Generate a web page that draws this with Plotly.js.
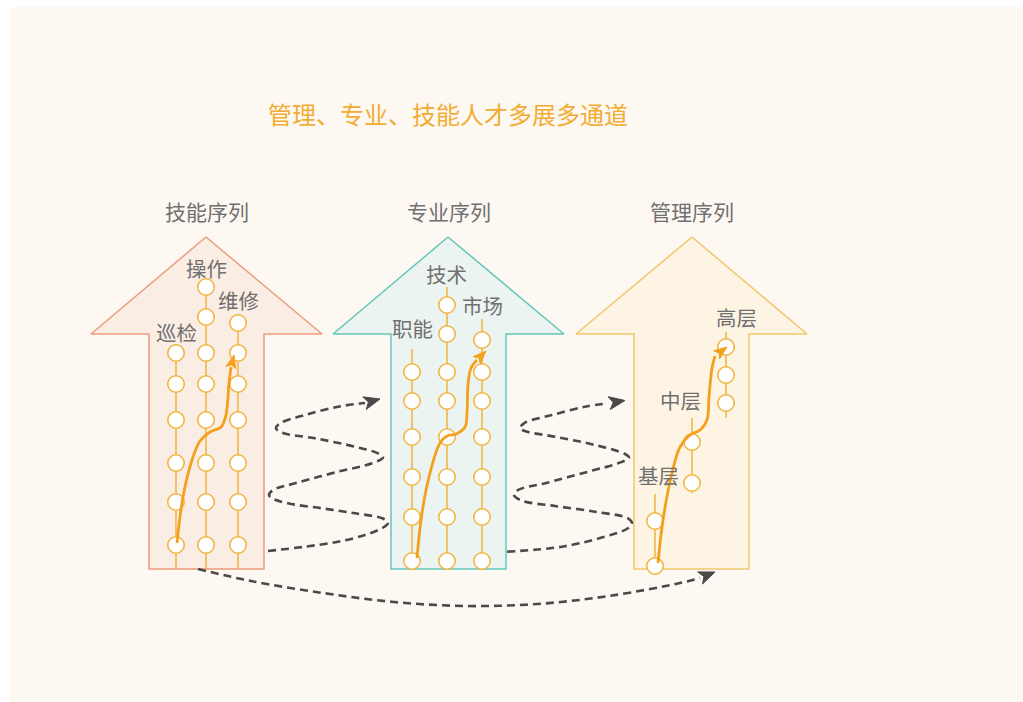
<!DOCTYPE html>
<html><head><meta charset="utf-8">
<script src="https://cdn.plot.ly/plotly-3.0.1.min.js"></script>
<style>html,body{margin:0;padding:0;background:#fff}</style>
</head><body><div id="chart" style="width:1023px;height:702px"></div>
<script>
// ---------- data ----------
const chartTitle = '管理、专业、技能人才多展多通道';
const seqTitles = ['技能序列', '专业序列', '管理序列'];
const seqTitleX = [207, 449, 692];
const seqTitleY = [211, 211, 211];

// arrow outlines (tip, right head, right shaft, bottom, left shaft, left head)
const arrowOutlineY = [237, 334, 334, 569, 569, 334, 334, 237];
const arrowOutlineX1 = [206, 322, 264, 264, 149, 149, 91, 206];
const arrowOutlineX2 = [448, 564, 506, 506, 391, 391, 333, 448];
const arrowOutlineX3 = [692, 807, 749, 749, 634, 634, 576, 692];

// tracks (levels) inside each arrow
const trackNames = ['巡检', '操作', '维修', '职能', '技术', '市场', '基层', '中层', '高层'];
const trackX = [176, 206, 238, 412, 447, 482, 655, 692, 726];
const trackTop = [353, 287, 323, 349, 287, 319, 494, 418, 332];
const trackBottom = [569, 569, 569, 569, 569, 569, 569, 493, 418];
const trackNodes = [
  [353, 384, 420, 463, 502, 545],
  [287, 317, 353, 384, 420, 463, 502, 545],
  [323, 353, 384, 420, 463, 502, 545],
  [372, 401, 437, 477, 517, 561],
  [305, 334, 372, 401, 437, 477, 517, 561],
  [340, 372, 401, 437, 477, 517, 561],
  [521, 566],
  [442, 483],
  [347, 375, 403]
];
const trackLabelX = [176, 206, 238, 412, 446, 482, 658, 680, 736];
const trackLabelY = [332, 268, 300, 328, 274, 305, 475, 400, 317];

// orange growth paths
const pathX1 = [177, 183, 192, 200, 210, 221, 226, 229, 231];
const pathY1 = [543, 497, 460, 441, 432, 427, 415, 383, 367];
const pathTip1 = [234, 355];
const pathX2 = [417, 422, 430, 440, 447, 456, 465, 467, 468, 471, 477];
const pathY2 = [558, 513, 473, 443, 436, 434, 427, 413, 385, 368, 360];
const pathTip2 = [486, 351];
const pathX3 = [658, 663, 672, 680, 690, 700, 707, 709, 712, 715];
const pathY3 = [563, 520, 473, 447, 435, 430, 420, 397, 368, 356];
const pathTip3 = [727, 347];

// dashed transfer paths
const dashX1 = [268, 305, 338, 365, 384, 388, 383, 355, 322, 288, 272, 269, 273, 295, 338, 372, 383, 378, 355, 315, 282, 276, 280, 305, 338, 365];
const dashY1 = [551, 546.7, 541.7, 535, 527, 523, 518.5, 513.3, 508.3, 503.3, 498.3, 495, 490, 483.3, 471.7, 463.3, 457.3, 453.3, 446.7, 438.3, 432.7, 428.3, 423.3, 415, 406.7, 403];
const dashTip1 = [380, 399];
const dashX2 = [507, 562, 605, 628, 632, 628, 595, 555, 522, 514, 518, 545, 588, 618, 629, 625, 595, 555, 527, 520, 525, 552, 585, 608];
const dashY2 = [551.7, 546.7, 536.7, 528.3, 523.3, 518.3, 511.7, 506, 500.7, 495, 490, 483.3, 471.7, 463.3, 457.7, 454, 445, 436.7, 431.7, 428.3, 422.7, 415, 406.7, 403.3];
const dashTip2 = [625, 400.5];
const dashX3 = [198, 251, 323, 394, 466, 537, 609, 680, 700];
const dashY3 = [569, 581, 593, 602, 606, 604, 596, 583, 578];
const dashTip3 = [715, 572];

// ---------- styles ----------
const FONT = 'Noto Sans CJK SC, Noto Sans, sans-serif';
const arrowFill = ['#faede4', '#ecf4f1', '#fdf4e4'];
const arrowLine = ['#eb9c7d', '#63c6ba', '#f1c66c'];
const nodeColor = '#f2b33d';
const pathColor = '#f5a01d';
const dashColor = '#4a4a4a';
const textColor = '#707070';

const traces = [];
const outlines = [arrowOutlineX1, arrowOutlineX2, arrowOutlineX3];
outlines.forEach((xs, i) => {
  traces.push({
    x: xs, y: arrowOutlineY, mode: 'lines', fill: 'toself',
    fillcolor: arrowFill[i], line: {color: arrowLine[i], width: 1.5},
    hoverinfo: 'skip', showlegend: false
  });
});

const dashes = [[dashX1, dashY1], [dashX2, dashY2], [dashX3, dashY3]];
dashes.forEach(d => {
  traces.push({
    x: d[0], y: d[1], mode: 'lines',
    line: {color: dashColor, width: 2.6, dash: '8px,5px', shape: 'spline', smoothing: 1},
    hoverinfo: 'skip', showlegend: false
  });
});

trackNames.forEach((n, i) => {
  traces.push({
    x: [trackX[i], trackX[i]], y: [trackTop[i], trackBottom[i]], mode: 'lines',
    line: {color: nodeColor, width: 1.5}, hoverinfo: 'skip', showlegend: false
  });
});
trackNames.forEach((n, i) => {
  traces.push({
    x: trackNodes[i].map(() => trackX[i]), y: trackNodes[i], mode: 'markers', name: n,
    marker: {size: 16.5, color: '#ffffff', line: {color: nodeColor, width: 1.5}},
    hoverinfo: 'skip', showlegend: false
  });
});

const paths = [[pathX1, pathY1], [pathX2, pathY2], [pathX3, pathY3]];
paths.forEach(p => {
  traces.push({
    x: p[0], y: p[1], mode: 'lines',
    line: {color: pathColor, width: 2.8, shape: 'spline', smoothing: 1},
    hoverinfo: 'skip', showlegend: false
  });
});

function headShape(tip, prev, L, W, notch, color) {
  const dx = tip[0] - prev[0], dy = tip[1] - prev[1];
  const d = Math.hypot(dx, dy);
  const ux = dx / d, uy = dy / d, nx = -uy, ny = ux;
  const bx = tip[0] - L * ux, by = tip[1] - L * uy;
  const lx = bx + W * nx, ly = by + W * ny;
  const rx = bx - W * nx, ry = by - W * ny;
  const cx = tip[0] - (L - notch) * ux, cy = tip[1] - (L - notch) * uy;
  return {
    type: 'path', xref: 'x', yref: 'y', layer: 'above',
    path: `M${tip[0]},${tip[1]} L${lx},${ly} L${cx},${cy} L${rx},${ry} Z`,
    fillcolor: color, line: {color: color, width: 1}
  };
}
const last = (a) => a[a.length - 1];
const shapes = [
  headShape(dashTip1, [last(dashX1), last(dashY1)], 16, 6.5, 4, dashColor),
  headShape(dashTip2, [last(dashX2), last(dashY2)], 16, 6.5, 4, dashColor),
  headShape(dashTip3, [last(dashX3), last(dashY3)], 16, 6.5, 4, dashColor),
  headShape(pathTip1, [last(pathX1), last(pathY1)], 13, 5, 3, pathColor),
  headShape(pathTip2, [last(pathX2), last(pathY2)], 13, 5, 3, pathColor),
  headShape(pathTip3, [last(pathX3), last(pathY3)], 13, 5, 3, pathColor)
];

const annotations = [];
seqTitles.forEach((t, i) => {
  annotations.push({x: seqTitleX[i], y: seqTitleY[i], xref: 'x', yref: 'y', text: t, showarrow: false,
    font: {family: FONT, size: 21, color: textColor}, xanchor: 'center', yanchor: 'middle'});
});
trackNames.forEach((t, i) => {
  annotations.push({x: trackLabelX[i], y: trackLabelY[i], xref: 'x', yref: 'y', text: t, showarrow: false,
    font: {family: FONT, size: 20.5, color: textColor}, xanchor: 'center', yanchor: 'middle'});
});

const layout = {
  width: 1023, height: 702,
  margin: {l: 10, t: 7, r: 0, b: 0, pad: 0},
  paper_bgcolor: '#ffffff', plot_bgcolor: '#fdf8f2',
  title: {text: chartTitle, x: 448 / 1023, xref: 'container', xanchor: 'center',
    y: 1 - 116 / 702, yref: 'container', yanchor: 'middle',
    font: {family: FONT, size: 24, color: '#f1ad33'}},
  xaxis: {range: [10, 1023], visible: false, fixedrange: true, showgrid: false, zeroline: false},
  yaxis: {range: [702, 7], visible: false, fixedrange: true, showgrid: false, zeroline: false},
  shapes: shapes,
  annotations: annotations,
  showlegend: false,
  hovermode: false
};

Plotly.newPlot('chart', traces, layout, {displayModeBar: false, staticPlot: true});
</script></body></html>
